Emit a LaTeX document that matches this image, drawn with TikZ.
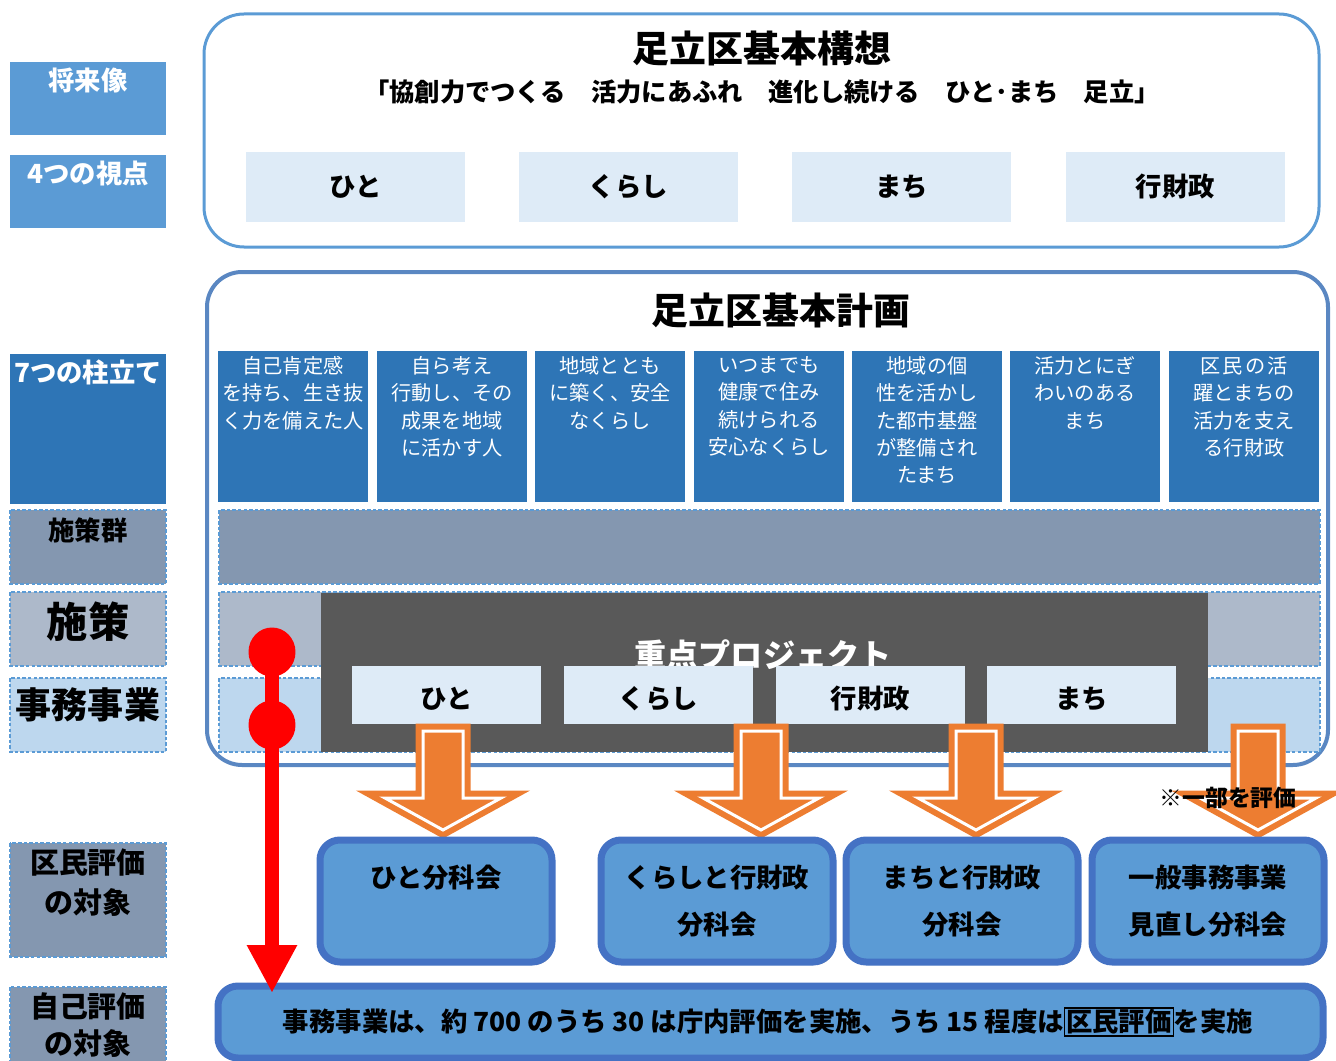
\documentclass[tikz,border=0pt]{standalone}
\usepackage{fontspec}
\setmainfont{Noto Sans CJK JP}
\newfontfamily\jpwide[LetterSpace=10]{Noto Sans CJK JP}
\usetikzlibrary{shapes.geometric,arrows.meta,shadows}

\definecolor{labblue}{HTML}{5B9BD5}
\definecolor{pillarblue}{HTML}{2E75B6}
\definecolor{grpgray}{HTML}{8497B0}
\definecolor{polgray}{HTML}{ADB9CA}
\definecolor{jobblue}{HTML}{BDD7EE}
\definecolor{paleblue}{HTML}{DEEBF7}
\definecolor{projgray}{HTML}{595959}
\definecolor{arrorange}{HTML}{ED7D31}
\definecolor{boxedge}{HTML}{4472C4}
\definecolor{planedge}{HTML}{5A87C2}

% block arrow pointing down, centred on x
\newcommand{\orangearrow}[1]{%
  \draw[orangearr] (#1-20,731) -- (#1+20,731) -- (#1+20,798) -- (#1+58,798)
    -- (#1,830) -- (#1-58,798) -- (#1-20,798) -- cycle;}

\begin{document}
\begin{tikzpicture}[x=0.02cm, y=-0.02cm,
  sidetxt/.style={font=\bfseries\fontsize{15}{18}\selectfont},
  dashrow/.style={draw=labblue, dash pattern=on 2pt off 1.2pt, line width=0.6pt},
  pillartxt/.style={anchor=north, align=center, text=white, inner sep=0pt,
    font=\fontsize{11.5}{15.6}\selectfont},
  viewtxt/.style={font=\bfseries\fontsize{15}{15}\selectfont},
  evalbox/.style={draw=boxedge, fill=labblue, line width=0.14cm, rounded corners=0.4cm,
    drop shadow={shadow xshift=0.04cm, shadow yshift=-0.06cm, fill=black!45, opacity=0.6}},
  evaltxt/.style={anchor=north, align=center, inner sep=0pt,
    font=\bfseries\fontsize{15}{26.6}\selectfont},
  orangearr/.style={draw=arrorange, fill=arrorange, line width=0.12cm,
    double=white, double distance=0.06cm},
  redarrow/.style={red, line width=0.28cm, -{Triangle[width=0.94cm, length=0.96cm]}},
  reddot/.style={ellipse, fill=red, minimum width=0.94cm, minimum height=0.98cm, inner sep=0pt}
]
\useasboundingbox (0,0) rectangle (1336,1061);

% Side labels
\fill[labblue] (10,62) rectangle (166,135);
\node[sidetxt, text=white] (futlab) at (88,80) {将来像};
\fill[labblue] (10,155) rectangle (166,228);
\node[sidetxt, text=white] (viewlab) at (88,173) {4つの視点};
\fill[pillarblue] (10,354) rectangle (166,504);
\node[sidetxt, text=white] (pillarlab) at (88,372) {7つの柱立て};
\draw[dashrow, fill=grpgray] (10,510) rectangle (166,584);
\node[sidetxt] (grplab) at (88,530) {施策群};
\draw[dashrow, fill=polgray] (10,592) rectangle (166,666);
\node[sidetxt, font=\bfseries\fontsize{23.5}{23.5}\selectfont] (pollab) at (88,622) {施策};
\draw[dashrow, fill=jobblue] (10,678) rectangle (166,752);
\node[sidetxt, font=\bfseries\fontsize{20.5}{20.5}\selectfont] (joblab) at (88,705) {事務事業};
\draw[dashrow, fill=grpgray] (10,843) rectangle (166,957);
\node[sidetxt, align=center, anchor=north, font=\bfseries\fontsize{16.5}{22.3}\selectfont] (citlab) at (88,843) {区民評価\\の対象};
\draw[dashrow, fill=grpgray] (10,987) rectangle (166,1075);
\node[sidetxt, align=center, anchor=north, font=\bfseries\fontsize{16.5}{21.5}\selectfont] (selflab) at (88,986) {自己評価\\の対象};

% Vision
\draw[draw=labblue, line width=0.06cm, rounded corners=0.8cm] (204,14) rectangle (1319,247);
\node[font=\bfseries\fontsize{21}{21}\selectfont] (vision) at (762,48) {足立区基本構想};
\node[font=\bfseries\fontsize{14.4}{14.4}\selectfont] (slogan) at (762,92)
  {「協創力でつくる　活力にあふれ　進化し続ける　ひと･まち　足立」};
\foreach \x/\txt in {246/ひと, 519/くらし, 792/まち, 1066/行財政} {
  \fill[paleblue] (\x,152) rectangle ++(219,70);
  \node[viewtxt] (view\x) at (\x+109.5,187) {\txt};
}

% Plan
\draw[draw=planedge, line width=0.08cm, rounded corners=0.7cm] (207,272) rectangle (1328,765);
\node[font=\bfseries\fontsize{21}{21}\selectfont] (plan) at (781,310) {足立区基本計画};
\foreach \x/\txt in {218/{自己肯定感\\を持ち、生き抜\\く力を備えた人},
    377/{自ら考え\\行動し、その\\成果を地域\\に活かす人},
    535/{地域ととも\\に築く、安全\\なくらし},
    694/{いつまでも\\健康で住み\\続けられる\\安心なくらし},
    852/{地域の個\\性を活かし\\た都市基盤\\が整備され\\たまち},
    1010/{活力とにぎ\\わいのある\\まち},
    1169/{\jpwide 区民の活\\躍とまちの\\活力を支え\\る行財政}} {
  \fill[pillarblue] (\x,351) rectangle ++(150,151);
  \node[pillartxt] (pillar\x) at (\x+75,356) {\txt};
}

% Policy rows
\draw[dashrow, fill=grpgray] (219,510) rectangle (1320,584);
\draw[dashrow, fill=polgray] (219,592) rectangle (1320,666);
\draw[dashrow, fill=jobblue] (219,678) rectangle (1320,752);

% Focus projects
\fill[projgray] (321,593) rectangle (1208,752);
\node[text=white, font=\bfseries\fontsize{18.3}{18.3}\selectfont] (focus) at (763,655) {重点プロジェクト};
\foreach \x/\txt in {352/ひと, 564/くらし, 776/行財政, 987/まち} {
  \fill[paleblue] (\x,666) rectangle ++(189,58);
  \node[viewtxt] (proj\x) at (\x+94.5,699) {\txt};
}

% Arrows to committees
\orangearrow{443}
\orangearrow{761}
\orangearrow{976}
\orangearrow{1258}
\node[font=\bfseries\fontsize{13}{13}\selectfont] (partnote) at (1228,798) {※一部を評価};

% Committees
\draw[evalbox] (320,840) rectangle (552,962);
\node[evaltxt] (hitoeval) at (436,865) {ひと分科会};
\draw[evalbox] (601,840) rectangle (833,962);
\node[evaltxt] (kurashieval) at (717,865) {くらしと行財政\\分科会};
\draw[evalbox] (846,840) rectangle (1078,962);
\node[evaltxt] (machieval) at (962,865) {まちと行財政\\分科会};
\draw[evalbox] (1092,840) rectangle (1324,962);
\node[evaltxt] (jobeval) at (1208,865) {一般事務事業\\見直し分科会};

% Self evaluation
\draw[evalbox] (218,986) rectangle (1323,1058);
\node[font=\bfseries\fontsize{15}{15}\selectfont] (selfnote) at (768,1022)
  {事務事業は、約 700 のうち 30 は庁内評価を実施、うち 15 程度は\setlength{\fboxsep}{0.5pt}\setlength{\fboxrule}{0.8pt}\fbox{区民評価}を実施};

% Red path
\coordinate (redend) at (272,993);
\node[reddot] (dotA) at (272,652) {};
\node[reddot] (dotB) at (272,725) {};
\draw[redarrow] (dotA.center) -- (redend);

\end{tikzpicture}
\end{document}
